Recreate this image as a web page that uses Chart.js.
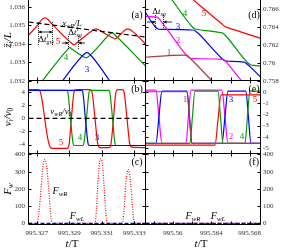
<!DOCTYPE html>
<html><head><meta charset="utf-8">
<script src="https://cdn.jsdelivr.net/npm/chart.js@4.4.1/dist/chart.umd.min.js"></script>
<style>
html,body{margin:0;padding:0;background:#fff;overflow:hidden}
#fig{position:relative;width:281px;height:250px;background:#fff}
#fig canvas{position:absolute;left:0;top:0}
</style></head><body>
<div id="fig">
<canvas id="pa" width="281" height="250"></canvas>
<canvas id="pb" width="281" height="250"></canvas>
<canvas id="pc" width="281" height="250"></canvas>
<canvas id="pd" width="281" height="250"></canvas>
<canvas id="pe" width="281" height="250"></canvas>
<canvas id="pf" width="281" height="250"></canvas>
</div>
<script>
// ===== tick labels =====
const tickTLeft = [995.327, 995.329, 995.331, 995.333];
const tickTRight = [995.56, 995.564, 995.568];
const tickTRightMinor = [995.558, 995.562, 995.566];
const tickZLeft = [1.032, 1.033, 1.034, 1.035, 1.036];
const tickZRight = [0.758, 0.76, 0.762, 0.764, 0.766];
const tickVLeft = [-4, -2, 0, 2, 4];
const tickVRight = [-5, -4, -3, -2, -1, 0];
const tickF = [0, 100, 200, 300, 400];

// ===== panel (a): positions z_i/L =====
const aRedT = [995.32649, 995.32706, 995.32731, 995.32749, 995.32768, 995.32792, 995.32915, 995.32928, 995.32940, 995.33038, 995.33063, 995.33088, 995.33112, 995.33168, 995.33180, 995.33192, 995.33235, 995.33260, 995.33285, 995.33368];
const aRedZ = [1.03447, 1.03501, 1.03531, 1.03539, 1.03531, 1.03507, 1.03401, 1.03393, 1.03401, 1.03469, 1.03480, 1.03471, 1.03458, 1.03431, 1.03425, 1.03431, 1.03469, 1.03480, 1.03469, 1.03398];
const aGreenT = [995.32718, 995.32891, 995.32903, 995.32915, 995.32989, 995.33002, 995.33014, 995.33149, 995.33162, 995.33174, 995.33368];
const aGreenZ = [1.03182, 1.03371, 1.03380, 1.03371, 1.03328, 1.03323, 1.03328, 1.03452, 1.03461, 1.03452, 1.03280];
const aBlueT = [995.32842, 995.32995, 995.33008, 995.33020, 995.33162];
const aBlueZ = [1.03182, 1.03347, 1.03352, 1.03347, 1.03182];
const aWallT = [995.32648, 995.33368];
const aWallZ = [1.03517, 1.03436];

// ===== panel (b): velocities =====
const bRedT = [995.32649, 995.32706, 995.32718, 995.32731, 995.32749, 995.32768, 995.32780, 995.32792, 995.32885, 995.32897, 995.32912, 995.32928, 995.32940, 995.33026, 995.33038, 995.33057, 995.33075, 995.33088, 995.33143, 995.33155, 995.33171, 995.33186, 995.33198, 995.33223, 995.33235, 995.33254, 995.33272, 995.33285, 995.33368];
const bRedV = [4.37, 4.37, 4.2, 2.8, -0.3, -3.3, -4.35, -4.58, -4.58, -4.1, 0, 4.0, 4.37, 4.37, 4.1, 0, -4.0, -4.46, -4.46, -4.0, 0, 4.0, 4.37, 4.37, 4.1, 0, -4.0, -4.4, -4.46];
const bGreenT = [995.32649, 995.32885, 995.32891, 995.32906, 995.32922, 995.32928, 995.32983, 995.32989, 995.33005, 995.33020, 995.33026, 995.33143, 995.33149, 995.33165, 995.33180, 995.33186, 995.33368];
const bGreenV = [4.27, 4.27, 3.9, 0, -3.8, -4.15, -4.15, -3.8, 0, 3.9, 4.27, 4.27, 3.9, 0, -3.8, -4.15, -4.15];
const bBlueT = [995.32649, 995.32977, 995.32983, 995.32998, 995.33014, 995.33020, 995.33368];
const bBlueV = [4.27, 4.27, 3.9, 0, -3.8, -4.15, -4.15];
const bWallT = [995.32648, 995.33368];
const bWallV = [0, 0];

// ===== panel (c): wall forces =====
const cFRT = [995.32648, 995.32700, 995.32712, 995.32725, 995.32737, 995.32748, 995.32760, 995.32772, 995.32784, 995.32794, 995.33057, 995.33066, 995.33076, 995.33086, 995.33094, 995.33102, 995.33112, 995.33122, 995.33132, 995.33225, 995.33236, 995.33246, 995.33256, 995.33262, 995.33270, 995.33280, 995.33290, 995.33300, 995.33368];
const cFRV = [0, 0, 60, 200, 330, 372, 330, 200, 60, 0, 0, 80, 250, 360, 375, 350, 230, 80, 0, 0, 80, 220, 300, 312, 290, 200, 70, 0, 0];
const cFLT = [995.32648, 995.33368];
const cFLV = [0, 0];

// ===== panel (d): positions, second interval =====
const dRedT = [995.56177, 995.56510, 995.56542, 995.56573, 995.56914];
const dRedZ = [0.767333, 0.764333, 0.764056, 0.763933, 0.762744];
const dGreenT = [995.55969, 995.56198, 995.56229, 995.56260, 995.56490, 995.56521, 995.56552, 995.56781, 995.56813, 995.56844, 995.56914];
const dGreenZ = [0.767333, 0.764056, 0.763778, 0.763722, 0.763389, 0.763300, 0.763000, 0.760000, 0.759778, 0.759733, 0.759667];
const dBlueT = [995.55698, 995.55813, 995.55844, 995.55875, 995.56208, 995.56240, 995.56271, 995.56510, 995.56542, 995.56573, 995.56740, 995.56771, 995.56914];
const dBlueZ = [0.765889, 0.764056, 0.763778, 0.763744, 0.763667, 0.763500, 0.763222, 0.760500, 0.760244, 0.760200, 0.760111, 0.759889, 0.758444];
const dMagT = [995.55698, 995.55813, 995.55844, 995.55875, 995.56146, 995.56177, 995.56208, 995.56510, 995.56542, 995.56573, 995.56792];
const dMagZ = [0.765167, 0.765133, 0.765056, 0.764667, 0.760800, 0.760533, 0.760489, 0.760411, 0.760278, 0.759889, 0.757000];
const dBrownT = [995.55698, 995.56115, 995.56146, 995.56177, 995.56438];
const dBrownZ = [0.760633, 0.760889, 0.760856, 0.760556, 0.757667];

// ===== panel (e): velocities, second interval =====
const eMagT = [995.55698, 995.55823, 995.55854, 995.55885, 995.56135, 995.56161, 995.56188, 995.56510, 995.56542, 995.56573, 995.56914];
const eMagV = [0.2, 0.2, -2.2, -4.6, -4.6, -2.2, 0.2, 0.2, -2.2, -4.6, -4.6];
const eBlueT = [995.55698, 995.55823, 995.55854, 995.55885, 995.56146, 995.56172, 995.56198, 995.56510, 995.56542, 995.56573, 995.56760, 995.56786, 995.56813, 995.56914];
const eBlueV = [-4.6, -4.6, -2.2, 0.1, 0.1, -2.2, -4.6, -4.6, -2.2, 0.1, 0.1, -2.2, -4.6, -4.6];
const eGreenT = [995.55698, 995.56177, 995.56203, 995.56229, 995.56469, 995.56495, 995.56521, 995.56750, 995.56776, 995.56802, 995.56914];
const eGreenV = [-4.6, -4.6, -2.2, 0.1, 0.1, -2.2, -4.6, -4.6, -2.2, 0.1, 0.1];
const eRedT = [995.55698, 995.56438, 995.56469, 995.56500, 995.56914];
const eRedV = [-4.75, -4.75, -2.5, -0.24, -0.24];
const eBrownT = [995.55698, 995.56146, 995.56172, 995.56198, 995.56914];
const eBrownV = [0.05, 0.05, -2.3, -4.6, -4.6];

// ===== panel (f): wall forces, second interval =====
const fFRT = [995.55714, 995.56912];
const fFRV = [0, 0];
const fFLT = [995.55714, 995.56912];
const fFLV = [0, 0];

// ================= drawing =================
const W = 281, H = 250;
const COLX = {left: [28.5, 145.5], right: [145.5, 260.5]};
const ROWY = [[0, 80.5], [80.5, 153.5], [153.5, 224.5]];
const FAM = '"Liberation Serif", "Times New Roman", serif';
const COL = {red: '#ff0000', green: '#009a00', blue: '#0000ff', mag: '#ff00ff', brown: '#a8403c', black: '#000000'};

function rich(ctx, parts, x, y, opt) {
  opt = opt || {};
  const size = opt.size || 10;
  const items = parts.map(p => {
    const s = p[0], f = p[1] || '';
    const small = f.includes('b') || f.includes('p');
    const sz = small ? size * 0.68 : size;
    const font = (f.includes('i') ? 'italic ' : '') + sz + 'px ' + FAM;
    ctx.font = font;
    const w = ctx.measureText(s).width;
    const dy = f.includes('b') ? size * 0.28 : f.includes('p') ? -size * 0.38 : 0;
    return {s, font, w, dy, keep: f.includes('k')};
  });
  const total = items.reduce((a, b) => a + (b.keep ? 0 : b.w), 0);
  ctx.save();
  ctx.translate(x, y);
  if (opt.rot) ctx.rotate(-Math.PI / 2);
  ctx.fillStyle = opt.color || '#000';
  ctx.textBaseline = 'middle';
  ctx.textAlign = 'left';
  let cx = opt.align === 'left' ? 0 : opt.align === 'right' ? -total : -total / 2;
  for (const it of items) {
    ctx.font = it.font;
    ctx.fillText(it.s, cx, it.dy);
    if (!it.keep) cx += it.w;
  }
  ctx.restore();
}

function arrowH(ctx, x0, x1, y) {
  ctx.beginPath(); ctx.moveTo(x0, y); ctx.lineTo(x1, y); ctx.stroke();
  const d = x1 > x0 ? -1 : 1;
  ctx.beginPath(); ctx.moveTo(x1, y); ctx.lineTo(x1 + d * 3, y - 1.6); ctx.lineTo(x1 + d * 3, y + 1.6); ctx.closePath(); ctx.fill();
}
function dottedV(ctx, x, y0, y1) {
  ctx.save(); ctx.setLineDash([1, 1]); ctx.beginPath(); ctx.moveTo(x, y0); ctx.lineTo(x, y1); ctx.stroke(); ctx.restore();
}

function ds(t, v, color, extra) {
  return Object.assign({
    data: t.map((x, i) => ({x: x, y: v[i]})),
    borderColor: color, borderWidth: 1.2, pointRadius: 0, fill: false,
    cubicInterpolationMode: 'monotone'
  }, extra || {});
}

function panel(id, col, row, o) {
  const showX = row === 2;
  const left = col === 'left';
  const framePlugin = {
    id: 'frame_' + id,
    afterDatasetsDraw(chart) {
      const ctx = chart.ctx, a = chart.chartArea, sx = chart.scales.x, sy = chart.scales.y;
      ctx.save();
      ctx.strokeStyle = '#000'; ctx.lineWidth = 1;
      ctx.beginPath();
      ctx.moveTo(a.left, a.top); ctx.lineTo(a.left, a.bottom);
      ctx.moveTo(a.right, a.top); ctx.lineTo(a.right, a.bottom);
      ctx.moveTo(a.left, a.bottom); ctx.lineTo(a.right, a.bottom);
      if (row > 0) { ctx.moveTo(a.left, a.top); ctx.lineTo(a.right, a.top); }
      ctx.stroke();
      const L = 3;
      ctx.beginPath();
      for (const v of o.xt) {
        const px = Math.round(sx.getPixelForValue(v)) + 0.5;
        ctx.moveTo(px, a.bottom); ctx.lineTo(px, a.bottom - L);
        if (row > 0) { ctx.moveTo(px, a.top); ctx.lineTo(px, a.top + L); }
      }
      for (const v of o.yt) {
        const py = Math.round(sy.getPixelForValue(v)) + 0.5;
        ctx.moveTo(a.left, py); ctx.lineTo(a.left + L, py);
        ctx.moveTo(a.right, py); ctx.lineTo(a.right - L, py);
      }
      ctx.stroke();
      ctx.restore();
      if (o.notes) { ctx.save(); o.notes(ctx); ctx.restore(); }
    }
  };
  const yTicks = o.yLabels;
  const xTicks = o.xLabels || [];
  return new Chart(document.getElementById(id), {
    type: 'line',
    data: {datasets: o.datasets},
    options: {
      responsive: false, animation: false, events: [],
      layout: {padding: {
        left: left ? 0 : COLX.right[0],
        right: left ? W - COLX.left[1] : 0,
        top: ROWY[row][0],
        bottom: showX ? 0 : H - ROWY[row][1]
      }},
      plugins: {legend: {display: false}, tooltip: {enabled: false}},
      scales: {
        x: {
          type: 'linear', min: o.xMin, max: o.xMax, display: showX,
          grid: {display: false, drawTicks: false, tickLength: 0}, border: {display: false},
          ticks: {display: showX, autoSkip: false, maxRotation: 0, padding: 4.3,
            font: {family: FAM, size: 7}, color: '#333',
            callback: (v, i) => String(xTicks[i])},
          afterBuildTicks: s => { s.ticks = xTicks.map(v => ({value: v})); },
          afterFit: s => { s.height = showX ? H - ROWY[2][1] : 0; s.paddingLeft = 0; s.paddingRight = 0; s.paddingTop = 0; s.paddingBottom = 0; }
        },
        y: {
          type: 'linear', min: o.yMin, max: o.yMax, position: left ? 'left' : 'right',
          grid: {display: false, drawTicks: false, tickLength: 0}, border: {display: false},
          ticks: {autoSkip: false, padding: left ? 3.5 : 2.5,
            font: {family: FAM, size: 7}, color: '#333',
            callback: (v, i) => String(yTicks[i])},
          afterBuildTicks: s => { s.ticks = yTicks.map(v => ({value: v})); },
          afterFit: s => { s.width = left ? COLX.left[0] : W - COLX.right[1]; s.paddingTop = 0; s.paddingBottom = 0; s.paddingLeft = 0; s.paddingRight = 0; }
        }
      }
    },
    plugins: [framePlugin]
  });
}

const LX = [995.32648, 995.33368];
const RX = [995.55714, 995.56912];

// (a)
panel('pa', 'left', 0, {
  xMin: LX[0], xMax: LX[1], yMin: 1.03201, yMax: 1.03636,
  xt: tickTLeft, yt: tickZLeft, yLabels: tickZLeft,
  datasets: [
    ds(aWallT, aWallZ, COL.black, {borderDash: [5, 3], cubicInterpolationMode: 'default', tension: 0}),
    ds(aBlueT, aBlueZ, COL.blue),
    ds(aGreenT, aGreenZ, COL.green),
    ds(aRedT, aRedZ, COL.red)
  ],
  notes: ctx => {
    rich(ctx, [['(a)']], 137, 15, {size: 10});
    rich(ctx, [['5']], 58, 42, {size: 9, color: COL.red});
    rich(ctx, [['4']], 66, 58, {size: 9, color: COL.green});
    rich(ctx, [['3']], 87, 70, {size: 9, color: COL.blue});
    rich(ctx, [['x', 'i'], ['wR', 'ib'], ['/L', 'i']], 72, 24, {size: 9});
    ctx.strokeStyle = '#000'; ctx.fillStyle = '#000'; ctx.lineWidth = 0.8;
    dottedV(ctx, 38.5, 22, 46); dottedV(ctx, 52.5, 22, 46);
    arrowH(ctx, 45, 38.5, 32); arrowH(ctx, 45, 52.5, 32);
    rich(ctx, [['Δ'], ['t', 'i'], ['l', 'ipk'], ['gw', 'ib']], 46, 40, {size: 9});
    dottedV(ctx, 68.5, 36, 50); dottedV(ctx, 78.5, 36, 50);
    arrowH(ctx, 62, 68.5, 43); arrowH(ctx, 85, 78.5, 43);
    rich(ctx, [['Δ'], ['t', 'i'], ['l', 'ipk'], ['sg', 'ib']], 75, 33, {size: 9});
    rich(ctx, [['z\u0304', 'i'], ['i', 'ib'], ['/L', 'i']], 8, 40, {size: 11, rot: true});
  }
});

// (b)
panel('pb', 'left', 1, {
  xMin: LX[0], xMax: LX[1], yMin: -5.37, yMax: 5.77,
  xt: tickTLeft, yt: tickVLeft, yLabels: tickVLeft,
  datasets: [
    ds(bWallT, bWallV, COL.black, {borderDash: [5, 3], cubicInterpolationMode: 'default', tension: 0}),
    ds(bBlueT, bBlueV, COL.blue),
    ds(bGreenT, bGreenV, COL.green),
    ds(bRedT, bRedV, COL.red)
  ],
  notes: ctx => {
    rich(ctx, [['(b)']], 137, 89, {size: 10});
    rich(ctx, [['v', 'i'], ['wR', 'ib'], ['/', 'i'], ['v', 'i'], ['0', 'b']], 61, 112, {size: 9});
    rich(ctx, [['5']], 61, 143, {size: 9, color: COL.red});
    rich(ctx, [['4']], 80, 138, {size: 9, color: COL.green});
    rich(ctx, [['3']], 97, 138, {size: 9, color: COL.blue});
    rich(ctx, [['v', 'i'], ['i', 'ib'], ['/', 'i'], ['v', 'i'], ['0', 'b']], 8, 117, {size: 11, rot: true});
  }
});

// (c)
panel('pc', 'left', 2, {
  xMin: LX[0], xMax: LX[1], yMin: -7, yMax: 405.8,
  xt: tickTLeft, yt: tickF, yLabels: tickF, xLabels: tickTLeft,
  datasets: [
    ds(cFLT, cFLV, COL.blue, {borderDash: [4, 2], cubicInterpolationMode: 'default', tension: 0}),
    ds(cFRT, cFRV, COL.red, {borderDash: [1, 1.5]})
  ],
  notes: ctx => {
    rich(ctx, [['(c)']], 137, 162, {size: 10});
    rich(ctx, [['F', 'i'], ['wR', 'ib']], 60, 191, {size: 10});
    rich(ctx, [['F', 'i'], ['wL', 'ib']], 77, 216, {size: 10});
    rich(ctx, [['F', 'i'], ['w', 'ib']], 8, 189, {size: 11, rot: true});
    rich(ctx, [['t', 'i'], ['/T']], 72, 244, {size: 11});
  }
});

// (d)
panel('pd', 'right', 0, {
  xMin: RX[0], xMax: RX[1], yMin: 0.75806, yMax: 0.767,
  xt: tickTRight.concat(tickTRightMinor), yt: tickZRight, yLabels: tickZRight,
  datasets: [
    ds(dBrownT, dBrownZ, COL.brown),
    ds(dMagT, dMagZ, COL.mag),
    ds(dBlueT, dBlueZ, COL.blue),
    ds(dGreenT, dGreenZ, COL.green),
    ds(dRedT, dRedZ, COL.red)
  ],
  notes: ctx => {
    rich(ctx, [['(d)']], 254, 15, {size: 10});
    rich(ctx, [['5']], 204, 14, {size: 9, color: COL.red});
    rich(ctx, [['4']], 185, 14, {size: 9, color: COL.green});
    rich(ctx, [['3']], 178, 27, {size: 9, color: COL.blue});
    rich(ctx, [['2']], 178, 41, {size: 9, color: COL.mag});
    rich(ctx, [['1']], 169, 53, {size: 9, color: COL.brown});
    ctx.strokeStyle = '#000'; ctx.fillStyle = '#000'; ctx.lineWidth = 0.8;
    dottedV(ctx, 155.5, 15, 30); dottedV(ctx, 163.5, 15, 30);
    arrowH(ctx, 147, 155.5, 22); arrowH(ctx, 172, 163.5, 22);
    rich(ctx, [['Δ'], ['t', 'i'], ['sg', 'ib']], 159, 12, {size: 9});
  }
});

// (e)
panel('pe', 'right', 1, {
  xMin: RX[0], xMax: RX[1], yMin: -5.51, yMax: 1.063,
  xt: tickTRight.concat(tickTRightMinor), yt: tickVRight, yLabels: tickVRight,
  datasets: [
    ds(eBrownT, eBrownV, COL.brown),
    ds(eGreenT, eGreenV, COL.green),
    ds(eRedT, eRedV, COL.red),
    ds(eBlueT, eBlueV, COL.blue),
    ds(eMagT, eMagV, COL.mag)
  ],
  notes: ctx => {
    rich(ctx, [['(e)']], 254, 89, {size: 10});
    rich(ctx, [['1']], 185, 100, {size: 9, color: COL.brown});
    rich(ctx, [['3']], 231, 100, {size: 9, color: COL.blue});
    rich(ctx, [['5']], 255, 100, {size: 9, color: COL.red});
    rich(ctx, [['2']], 231, 137, {size: 9, color: COL.mag});
    rich(ctx, [['4']], 242, 137, {size: 9, color: COL.green});
  }
});

// (f)
panel('pf', 'right', 2, {
  xMin: RX[0], xMax: RX[1], yMin: -7, yMax: 405.8,
  xt: tickTRight.concat(tickTRightMinor), yt: tickF, yLabels: tickF, xLabels: tickTRight,
  datasets: [
    ds(fFLT, fFLV, COL.blue, {borderDash: [4, 2], cubicInterpolationMode: 'default', tension: 0}),
    ds(fFRT, fFRV, COL.red, {borderDash: [4, 1.5, 1, 1.5], cubicInterpolationMode: 'default', tension: 0})
  ],
  notes: ctx => {
    rich(ctx, [['(f)']], 254, 162, {size: 10});
    rich(ctx, [['F', 'i'], ['wR', 'ib']], 193, 216, {size: 10});
    rich(ctx, [['F', 'i'], ['wL', 'ib']], 218, 216, {size: 10});
    rich(ctx, [['t', 'i'], ['/T']], 201, 244, {size: 11});
  }
});
</script>
</body></html>
